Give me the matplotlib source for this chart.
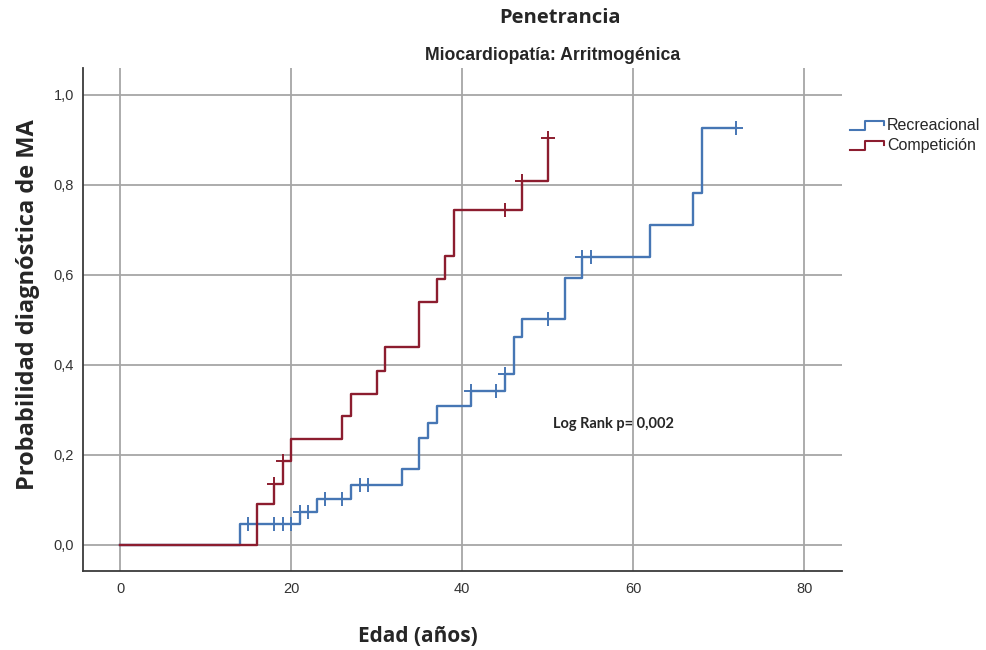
import numpy as np
import matplotlib
matplotlib.use("Agg")
import matplotlib.pyplot as plt
from matplotlib.legend_handler import HandlerBase
from matplotlib.lines import Line2D

# Cumulative probability of diagnosis (1 - KM survival) by age
rec_event_ages = [14, 21, 23, 27, 33, 35, 36, 37, 41, 45, 46, 47, 52, 54, 62, 67, 68]
rec_cum_prob = [0.047, 0.074, 0.103, 0.133, 0.168, 0.238, 0.272, 0.308, 0.341,
                0.380, 0.461, 0.503, 0.593, 0.640, 0.710, 0.783, 0.927]
rec_censor_ages = [15, 18, 19, 20, 21, 22, 24, 26, 28, 29, 41, 44, 45, 50, 54, 55, 72]
rec_last_age = 72

comp_event_ages = [16, 18, 19, 20, 26, 27, 30, 31, 35, 37, 38, 39, 47, 50]
comp_cum_prob = [0.092, 0.136, 0.186, 0.236, 0.287, 0.336, 0.387, 0.439, 0.539,
                 0.591, 0.643, 0.744, 0.808, 0.904]
comp_censor_ages = [18, 19, 45, 47, 50]
comp_last_age = 50

series_labels = ["Recreacional", "Competición"]
x_ticks = [0, 20, 40, 60, 80]
y_ticks = [0.0, 0.2, 0.4, 0.6, 0.8, 1.0]
y_tick_labels = ["0,0", "0,2", "0,4", "0,6", "0,8", "1,0"]

BLUE = "#4676b4"
RED = "#8c1d2f"
GRID = "#a6a6a6"
TXT = "#262626"

fig = plt.figure(figsize=(9.86, 6.5), dpi=100)
ax = fig.add_axes([82.5 / 986, 1 - 571 / 650, (842 - 82.5) / 986, (571 - 68) / 650])


def step_curve(event_ages, cum_prob, last_age):
    t = np.concatenate([[0.0], np.asarray(event_ages, float), [last_age]])
    v = np.concatenate([[0.0], np.asarray(cum_prob, float), [cum_prob[-1]]])
    return t, v


def value_at(event_ages, cum_prob, ages):
    idx = np.searchsorted(np.asarray(event_ages, float), np.asarray(ages, float), side="right")
    vals = np.concatenate([[0.0], np.asarray(cum_prob, float)])
    return vals[idx]


for ages, probs, cens, last, color in [
    (rec_event_ages, rec_cum_prob, rec_censor_ages, rec_last_age, BLUE),
    (comp_event_ages, comp_cum_prob, comp_censor_ages, comp_last_age, RED),
]:
    t, v = step_curve(ages, probs, last)
    ax.step(t, v, where="post", color=color, lw=1.7, zorder=3)
    ax.plot(cens, value_at(ages, probs, cens), linestyle="none", marker="+",
            markersize=10, markeredgewidth=1.4, color=color, zorder=4)

ax.set_xlim(-4.39, 84.4)
ax.set_ylim(-0.058, 1.06)
ax.set_xticks(x_ticks)
ax.set_yticks(y_ticks)
ax.set_yticklabels(y_tick_labels)
ax.grid(True, color=GRID, lw=1.3, zorder=1)
ax.set_axisbelow(True)
for s in ["top", "right"]:
    ax.spines[s].set_visible(False)
for s in ["left", "bottom"]:
    ax.spines[s].set_color("#3a3a3a")
    ax.spines[s].set_linewidth(1.3)
ax.tick_params(axis="x", length=0, pad=8, labelsize=10.5, labelcolor="#333333")
ax.tick_params(axis="y", length=0, pad=6, labelsize=10.5, labelcolor="#333333")
for lab in ax.get_xticklabels() + ax.get_yticklabels():
    lab.set_family("Liberation Sans")

ax.text(57.7, 0.269, "Log Rank p= 0,002", family="Lato", fontweight="bold",
        fontsize=10.5, color=TXT, ha="center", va="center")

fig.text(560 / 986, 1 - 18 / 650, "Penetrancia", family="Open Sans", fontweight="bold",
         fontsize=14.5, color=TXT, ha="center", va="center")
fig.text(553 / 986, 1 - 55 / 650, "Miocardiopatía: Arritmogénica", family="Liberation Sans",
         fontweight="bold", fontsize=12.7, color=TXT, ha="center", va="center")
fig.text(28 / 986, 1 - 305 / 650, "Probabilidad diagnóstica de MA", family="Open Sans",
         fontweight="bold", fontsize=17, color=TXT, ha="center", va="center", rotation=90)
fig.text(418 / 986, 1 - 636 / 650, "Edad (años)", family="Open Sans", fontweight="bold",
         fontsize=15, color=TXT, ha="center", va="center")


class StepHandler(HandlerBase):
    def create_artists(self, legend, orig_handle, xdescent, ydescent, width, height,
                       fontsize, trans):
        x0, y0 = -xdescent, -ydescent
        xs = [x0, x0 + 0.45 * width, x0 + 0.45 * width, x0 + width, x0 + width]
        ys = [y0 + 0.05 * height, y0 + 0.05 * height, y0 + 0.85 * height,
              y0 + 0.85 * height, y0 + 0.45 * height]
        ln = Line2D(xs, ys, color=orig_handle.get_color(), lw=1.5, transform=trans)
        return [ln]


handles = [Line2D([], [], color=BLUE), Line2D([], [], color=RED)]
leg = fig.legend(handles, series_labels, loc="upper left",
                 bbox_to_anchor=(844 / 986, 1 - 112 / 650), frameon=False,
                 handler_map={Line2D: StepHandler()}, handlelength=2.1,
                 handletextpad=0.2, labelspacing=0.3, borderaxespad=0,
                 prop={"family": "Liberation Sans", "size": 11.5})
for t in leg.get_texts():
    t.set_color(TXT)

fig.savefig("out.png", dpi=100, facecolor="white")
